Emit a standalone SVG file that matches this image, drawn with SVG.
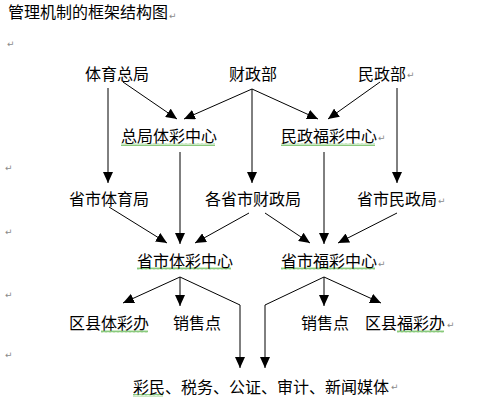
<svg xmlns="http://www.w3.org/2000/svg" width="496" height="414" viewBox="0 0 496 414">
<style>
text{font-family:"Noto Sans CJK SC","Noto Sans",sans-serif;font-size:16px;fill:#000}
.pm{font-family:"DejaVu Sans",sans-serif;font-size:9px;fill:#8a8a8a}
.c{fill:none;stroke:#000;stroke-width:1}
</style>
<defs>
<marker id="ah" markerUnits="userSpaceOnUse" markerWidth="11" markerHeight="10" refX="11" refY="5" orient="auto" viewBox="0 0 11 10">
<path d="M0,0 L11,5 L0,10 z" fill="#000"/>
</marker>
<pattern id="wavy" width="4" height="3" patternUnits="userSpaceOnUse">
<path d="M0,2.5 L1,0.5 L2,2.5 L3,0.5 L4,2.5" fill="none" stroke="#6bbd5b" stroke-width="0.8"/>
</pattern>
</defs>
<rect width="496" height="414" fill="#fff"/>
<text id="title" x="8" y="18">管理机制的框架结构图</text>
<g id="marks">
<text class="pm" x="169" y="19">↵</text>
<text class="pm" x="7" y="47">↵</text>
<text class="pm" x="5" y="171">↵</text>
<text class="pm" x="5" y="235">↵</text>
<text class="pm" x="5" y="298">↵</text>
<text class="pm" x="5" y="358">↵</text>
<text class="pm" x="407" y="78">↵</text>
<text class="pm" x="378" y="141">↵</text>
<text class="pm" x="438" y="204">↵</text>
<text class="pm" x="378" y="267">↵</text>
<text class="pm" x="447" y="328">↵</text>
<text class="pm" x="391" y="390">↵</text>
</g>
<g id="squiggles">
<rect x="121" y="143" width="94" height="3" fill="url(#wavy)"/>
<rect x="281" y="143" width="94" height="3" fill="url(#wavy)"/>
<rect x="137" y="267" width="94" height="3" fill="url(#wavy)"/>
<rect x="281" y="267" width="94" height="3" fill="url(#wavy)"/>
<rect x="101" y="330" width="47" height="3" fill="url(#wavy)"/>
<rect x="397" y="330" width="47" height="3" fill="url(#wavy)"/>
<rect x="133" y="394" width="30" height="3" fill="url(#wavy)"/>
</g>
<g id="n-tiyuzongju"><text x="85" y="80">体育总局</text></g>
<g id="n-caizhengbu"><text x="229" y="80">财政部</text></g>
<g id="n-minzhengbu"><text x="358" y="80">民政部</text></g>
<g id="n-zongjuticai"><text x="121" y="142">总局体彩中心</text></g>
<g id="n-minzhengfucai"><text x="281" y="142">民政福彩中心</text></g>
<g id="n-shengshitiyu"><text x="69" y="205">省市体育局</text></g>
<g id="n-shengshicaizheng"><text x="205" y="205">各省市财政局</text></g>
<g id="n-shengshiminzheng"><text x="357" y="205">省市民政局</text></g>
<g id="n-shengshiticai"><text x="137" y="267">省市体彩中心</text></g>
<g id="n-shengshifucai"><text x="281" y="267">省市福彩中心</text></g>
<g id="n-quxianticai"><text x="69" y="329">区县体彩办</text></g>
<g id="n-xiaoshou1"><text x="173" y="329">销售点</text></g>
<g id="n-xiaoshou2"><text x="301" y="329">销售点</text></g>
<g id="n-quxianfucai"><text x="365" y="329">区县福彩办</text></g>
<g id="n-public"><text x="133" y="393">彩民、税务、公证、审计、新闻媒体</text></g>
<g id="connectors">
<path class="c" d="M123,82 L177,119" marker-end="url(#ah)"/>
<path class="c" d="M252,89 L184,119" marker-end="url(#ah)"/>
<path class="c" d="M252,89 L318,119" marker-end="url(#ah)"/>
<path class="c" d="M380,82 L328,119" marker-end="url(#ah)"/>
<path class="c" d="M108,88 L108,183" marker-end="url(#ah)"/>
<path class="c" d="M252,89 L252,183" marker-end="url(#ah)"/>
<path class="c" d="M397,88 L397,183" marker-end="url(#ah)"/>
<path class="c" d="M180,152 L180,244" marker-end="url(#ah)"/>
<path class="c" d="M324,152 L324,244" marker-end="url(#ah)"/>
<path class="c" d="M109,207 L167,243" marker-end="url(#ah)"/>
<path class="c" d="M249,213 L195,243" marker-end="url(#ah)"/>
<path class="c" d="M265,213 L310,243" marker-end="url(#ah)"/>
<path class="c" d="M397,213 L338,243" marker-end="url(#ah)"/>
<path class="c" d="M180,277 L123,303" marker-end="url(#ah)"/>
<path class="c" d="M180,277 L180,306" marker-end="url(#ah)"/>
<path class="c" d="M180,277 L240,305 L240,368" marker-end="url(#ah)"/>
<path class="c" d="M324,277 L324,306" marker-end="url(#ah)"/>
<path class="c" d="M324,277 L381,303" marker-end="url(#ah)"/>
<path class="c" d="M324,277 L265,305 L265,368" marker-end="url(#ah)"/>
</g>
</svg>
